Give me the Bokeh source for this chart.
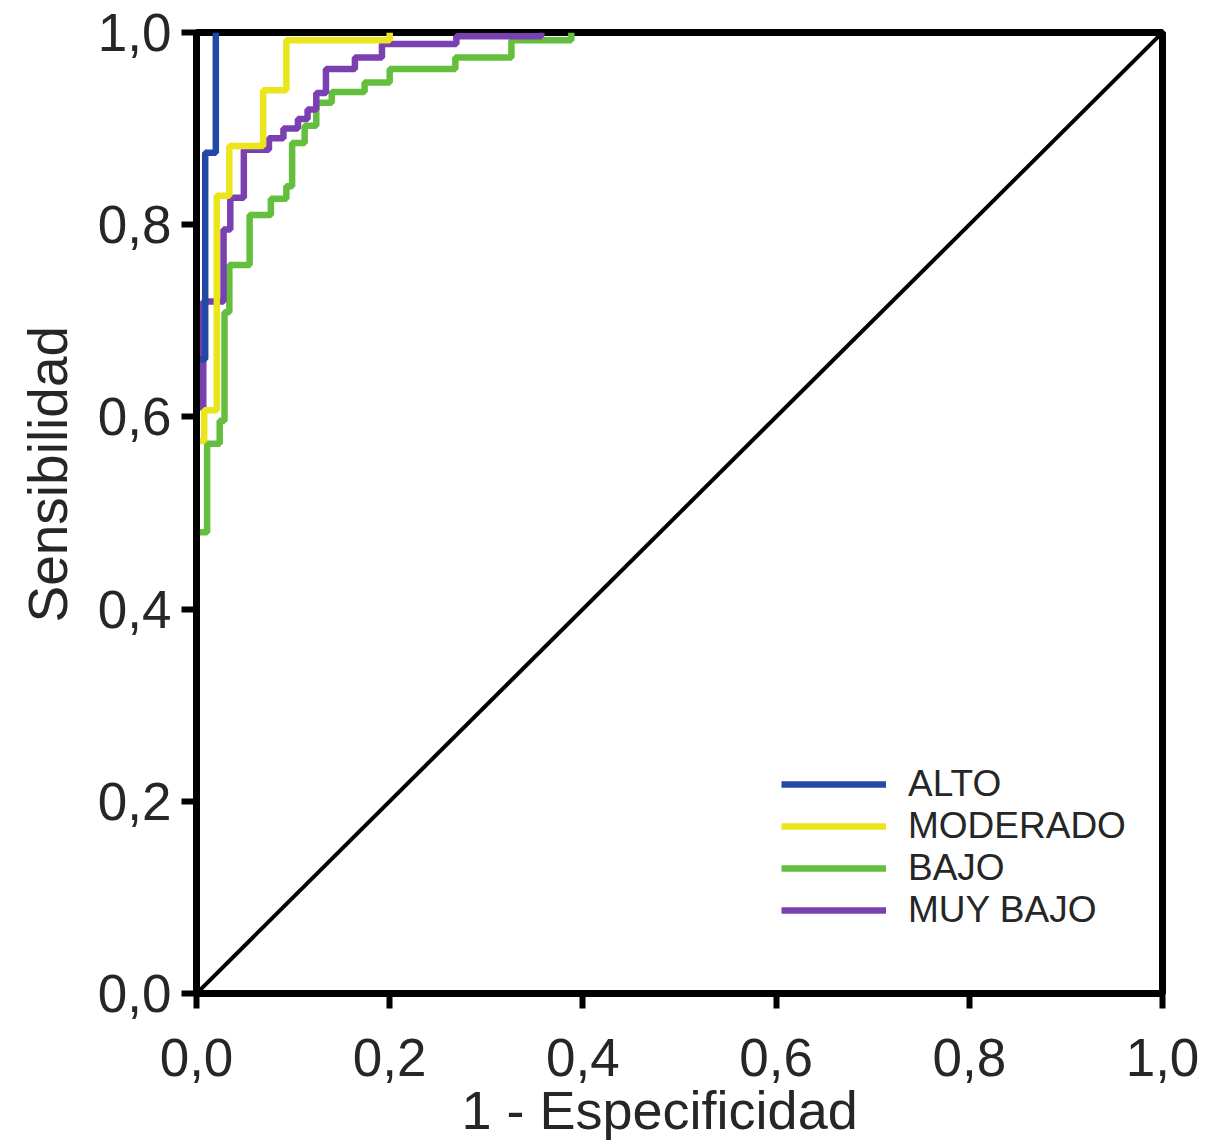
from bokeh.plotting import figure
from bokeh.models import Range1d, FixedTicker, Legend, LegendItem, Title
from bokeh.embed import file_html
from bokeh.resources import INLINE

# ---- data ----
tick_values = [0.0, 0.2, 0.4, 0.6, 0.8, 1.0]
tick_labels = ["0,0", "0,2", "0,4", "0,6", "0,8", "1,0"]

x_title = "1 - Especificidad"
y_title = "Sensibilidad"

series_names = ["ALTO", "MODERADO", "BAJO", "MUY BAJO"]

alto_fpr = [0.0, 0.0, 0.009, 0.009, 0.020, 0.020]
alto_tpr = [0.0, 0.66, 0.66, 0.875, 0.875, 1.0]

moderado_fpr = [0.0, 0.0, 0.008, 0.008, 0.021, 0.021, 0.034, 0.034, 0.069, 0.069,
                0.093, 0.093, 0.200, 0.200]
moderado_tpr = [0.0, 0.575, 0.575, 0.607, 0.607, 0.830, 0.830, 0.882, 0.882, 0.940,
                0.940, 0.992, 0.992, 1.0]

bajo_fpr = [0.0, 0.0, 0.011, 0.011, 0.024, 0.024, 0.029, 0.029, 0.034, 0.034,
            0.055, 0.055, 0.077, 0.077, 0.093, 0.093, 0.099, 0.099, 0.112, 0.112,
            0.124, 0.124, 0.140, 0.140, 0.174, 0.174, 0.200, 0.200, 0.268, 0.268,
            0.326, 0.326, 0.388, 0.388]
bajo_tpr = [0.0, 0.48, 0.48, 0.572, 0.572, 0.596, 0.596, 0.709, 0.709, 0.758,
            0.758, 0.810, 0.810, 0.827, 0.827, 0.840, 0.840, 0.885, 0.885, 0.903,
            0.903, 0.927, 0.927, 0.938, 0.938, 0.948, 0.948, 0.962, 0.962, 0.974,
            0.974, 0.992, 0.992, 1.0]

muybajo_fpr = [0.0, 0.0, 0.007, 0.007, 0.028, 0.028, 0.035, 0.035, 0.049, 0.049,
               0.075, 0.075, 0.090, 0.090, 0.105, 0.105, 0.115, 0.115, 0.124, 0.124,
               0.134, 0.134, 0.164, 0.164, 0.192, 0.192, 0.269, 0.269, 0.357, 0.357]
muybajo_tpr = [0.0, 0.61, 0.61, 0.72, 0.72, 0.795, 0.795, 0.828, 0.828, 0.878,
               0.878, 0.890, 0.890, 0.900, 0.900, 0.910, 0.910, 0.920, 0.920, 0.937,
               0.937, 0.962, 0.962, 0.974, 0.974, 0.988, 0.988, 0.996, 0.996, 1.0]

chance_x = [0.0, 1.0]
chance_y = [0.0, 1.0]

colors = {"ALTO": "#2249a6", "MODERADO": "#ebe51c", "BAJO": "#64bf3f", "MUY BAJO": "#7a40b2"}

FONT = "Liberation Sans"
TXT = "#262626"
W, H = 1205, 1148

p = figure(width=W, height=H, x_range=Range1d(0, 1), y_range=Range1d(0, 1),
           output_backend="svg", toolbar_location=None,
           min_border_left=195, min_border_right=43, min_border_top=32, min_border_bottom=155)

p.grid.visible = False
p.background_fill_color = "white"
p.border_fill_color = "white"
p.outline_line_color = "black"
p.outline_line_width = 7

for ax in (p.xaxis[0], p.yaxis[0]):
    ax.ticker = FixedTicker(ticks=tick_values)
    ax.major_label_overrides = {v: l for v, l in zip(tick_values, tick_labels)}
    ax.axis_line_width = 7
    ax.axis_line_color = "black"
    ax.major_tick_line_width = 6
    ax.major_tick_line_color = "black"
    ax.major_tick_out = 15
    ax.major_tick_in = 0
    ax.minor_tick_line_color = None
    ax.major_label_text_font = FONT
    ax.major_label_text_font_size = "53px"
    ax.major_label_text_color = TXT
p.xaxis[0].major_label_standoff = 30
p.yaxis[0].major_label_standoff = 10

p.line(chance_x, chance_y, line_color="black", line_width=4)

LW = 6.5
r_bajo = p.line(bajo_fpr, bajo_tpr, line_color=colors["BAJO"], line_width=LW)
r_muy = p.line(muybajo_fpr, muybajo_tpr, line_color=colors["MUY BAJO"], line_width=LW)
r_mod = p.line(moderado_fpr, moderado_tpr, line_color=colors["MODERADO"], line_width=LW)
r_alto = p.line(alto_fpr, alto_tpr, line_color=colors["ALTO"], line_width=LW)

legend = Legend(items=[LegendItem(label=series_names[0], renderers=[r_alto]),
                       LegendItem(label=series_names[1], renderers=[r_mod]),
                       LegendItem(label=series_names[2], renderers=[r_bajo]),
                       LegendItem(label=series_names[3], renderers=[r_muy])],
                location=(585, 62))
legend.background_fill_alpha = 0
legend.border_line_alpha = 0
legend.padding = 0
legend.margin = 0
legend.spacing = -2
legend.glyph_width = 105
legend.glyph_height = 40
legend.label_height = 40
legend.label_standoff = 22
legend.label_text_font = FONT
legend.label_text_font_size = "37px"
legend.label_text_color = TXT
p.add_layout(legend)

ytitle = Title(text=y_title, align="left", offset=371, vertical_align="middle",
               standoff=30, text_font=FONT, text_font_size="55px",
               text_font_style="normal", text_color=TXT)
p.add_layout(ytitle, "left")
xtitle = Title(text=x_title, align="left", offset=265, vertical_align="top",
               standoff=3, text_font=FONT, text_font_size="54px",
               text_font_style="normal", text_color=TXT)
p.add_layout(xtitle, "below")

open("out.html", "w").write(file_html(p, INLINE))
